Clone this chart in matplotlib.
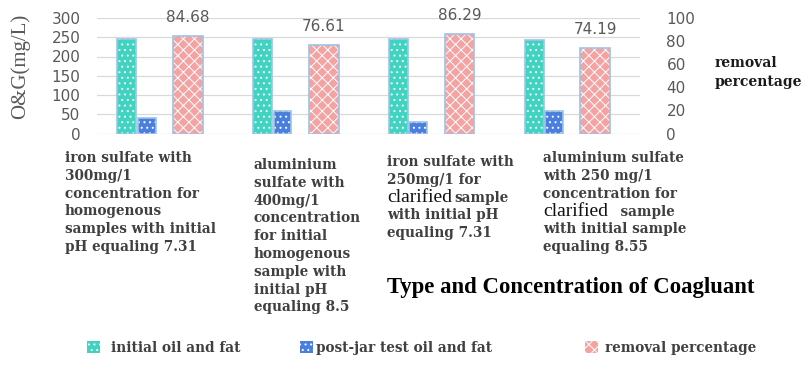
import matplotlib
matplotlib.use("Agg")
import numpy as np
from matplotlib import pyplot as plt
from matplotlib.patches import Patch

# values
initial_oil = [246, 246, 245, 244]
post_jar_oil = [40, 58, 31, 59]
removal_pct = [84.68, 76.61, 86.29, 74.19]

category_lines = [
    ["iron sulfate with", "300mg/1", "concentration for", "homogenous",
     "samples with initial", "pH equaling 7.31"],
    ["aluminium", "sulfate with", "400mg/1", "concentration", "for initial",
     "homogenous", "sample with", "initial pH", "equaling 8.5"],
    ["iron sulfate with", "250mg/1 for", "clarified|sample", "with initial pH",
     "equaling 7.31"],
    ["aluminium sulfate", "with 250 mg/1", "concentration for",
     "clarified|  sample", "with initial sample", "equaling 8.55"],
]
series_names = ["initial oil and fat", "post-jar test oil and fat", "removal percentage"]
left_ticks = [0, 50, 100, 150, 200, 250, 300]
right_ticks = [0, 20, 40, 60, 80, 100]

W, H = 802, 365
teal = "#3fd3c0"
blue = "#4a7fe0"
pink = "#f4a3a3"
edge = "#9dc3e6"
gray = "#595959"
txt = "#404040"
serif = "DejaVu Serif"
lab_size = 9.8

plt.rcParams["hatch.linewidth"] = 0.7

fig = plt.figure(figsize=(W / 100, H / 100), dpi=100)
ax = fig.add_axes([97 / W, 1 - 133.5 / H, 543 / W, 115.5 / H])
ax2 = ax.twinx()

x = np.arange(len(initial_oil))

def hatched_bar(axis, xs, vals, width, color, hatch):
    axis.bar(xs, vals, width, color=color, edgecolor="white", hatch=hatch, linewidth=0, zorder=2)
    axis.bar(xs, vals, width, facecolor="none", edgecolor=edge, linewidth=1.2, zorder=3)

hatched_bar(ax, x - 0.28, initial_oil, 0.14, teal, "...")
hatched_bar(ax, x - 0.133, post_jar_oil, 0.13, blue, "...")
hatched_bar(ax2, x + 0.17, removal_pct, 0.22, pink, "xxx")

for xi, v in zip(x + 0.17, removal_pct):
    ax2.annotate(f"{v:.2f}", (xi, v), xytext=(0, 13), textcoords="offset points",
                 ha="center", va="center", fontsize=11, color=gray)

ax.set_xlim(-0.5, 3.5)
ax.set_ylim(0, 300)
ax2.set_ylim(0, 100)
ax.set_yticks(left_ticks)
ax2.set_yticks(right_ticks)
ax.set_xticks([])
ax.yaxis.grid(True, color="#d9d9d9", linewidth=0.9, zorder=0)
ax.set_axisbelow(True)
ax.tick_params(axis="y", length=0, pad=12, labelsize=11, labelcolor=gray)
ax2.tick_params(axis="y", length=0, pad=19, labelsize=11, labelcolor=gray)
for a in (ax, ax2):
    for s in a.spines.values():
        s.set_visible(False)

fig.text(20 / W, 1 - 66 / H, "O&G(mg/L)", rotation=90, ha="center", va="center",
         family="Liberation Serif", fontsize=15, color=gray)
fig.text(715 / W, 1 - 63 / H, "removal", ha="left", va="center",
         family=serif, weight="bold", fontsize=10, color="#1a1a1a")
fig.text(715 / W, 1 - 82 / H, "percentage", ha="left", va="center",
         family=serif, weight="bold", fontsize=10, color="#1a1a1a")

# category labels under the groups
label_x = [65, 254, 387, 543]
label_top = [158, 165, 162, 158]
step = 17.8
for lines, lx, ly in zip(category_lines, label_x, label_top):
    for k, line in enumerate(lines):
        y = 1 - (ly + k * step) / H
        if "|" in line:
            big, rest = line.split("|")
            t = fig.text(lx / W, y, big, ha="left", va="center",
                         family="Liberation Serif", fontsize=14, color="#111111")
            ax.annotate(rest, xy=(1, 0.45), xycoords=t, xytext=(2, 0),
                        textcoords="offset points", ha="left", va="center",
                        family=serif, weight="bold", fontsize=lab_size,
                        color=txt, annotation_clip=False)
        else:
            fig.text(lx / W, y, line, ha="left", va="center",
                     family=serif, weight="bold", fontsize=lab_size, color=txt)

fig.text(387 / W, 1 - 288 / H, "Type and Concentration of Coagluant", ha="left",
         va="center", family="Liberation Serif", weight="bold", fontsize=16.4, color="black")

# legend, one entry at a time to keep the uneven spacing
handles = [
    Patch(facecolor=teal, edgecolor="white", hatch="...", linewidth=0),
    Patch(facecolor=blue, edgecolor="white", hatch="...", linewidth=0),
    Patch(facecolor=pink, edgecolor="white", hatch="xxx", linewidth=0),
]
leg_x = [87, 300, 585]
pads = [0.8, 0.25, 0.55]
for h, name, lx, pd in zip(handles, series_names, leg_x, pads):
    fig.legend(handles=[h], labels=[name], loc="center left",
               bbox_to_anchor=(lx / W, 1 - 348 / H), frameon=False, borderpad=0,
               borderaxespad=0, handlelength=0.95, handleheight=0.95, handletextpad=pd,
               prop={"family": serif, "weight": "bold", "size": lab_size},
               labelcolor=txt)

fig.savefig("out.png", dpi=100)
